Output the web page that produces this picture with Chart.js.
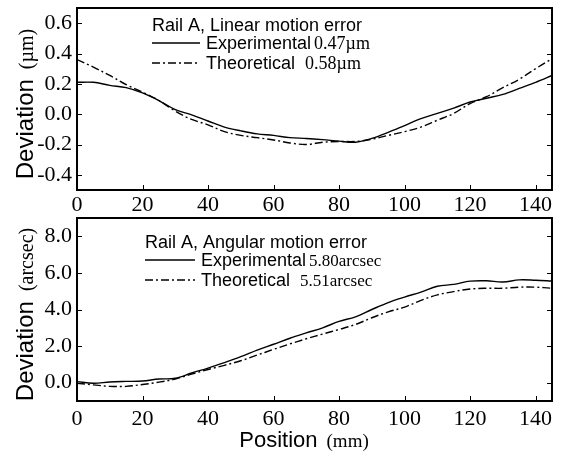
<!DOCTYPE html>
<html>
<head>
<meta charset="utf-8">
<script src="https://cdn.jsdelivr.net/npm/chart.js@4"></script>
<style>
  html, body { margin: 0; padding: 0; background: #fff; }
  #wrap { position: relative; width: 563px; height: 452px; }
  canvas { position: absolute; left: 0; }
</style>
</head>
<body>
<div id="wrap">
  <canvas id="linChart" width="563" height="215" style="top:0"></canvas>
  <canvas id="angChart" width="563" height="237" style="top:215px"></canvas>
</div>
<script>
// positions along the rail (mm)
const positions = [0, 5, 10, 15, 20, 25, 30, 35, 40, 45, 50, 55, 60, 65, 70,
  75, 80, 85, 90, 95, 100, 105, 110, 115, 120, 125, 130, 135, 140, 145];

// linear motion error (um)
const linExperimental = [0.21, 0.21, 0.19, 0.175, 0.14, 0.09, 0.03, -0.005, -0.045, -0.085,
  -0.11, -0.13, -0.14, -0.155, -0.16, -0.168, -0.178, -0.185, -0.16, -0.12,
  -0.075, -0.03, 0.005, 0.04, 0.08, 0.105, 0.13, 0.17, 0.21, 0.255];
const linTheoretical = [0.36, 0.31, 0.255, 0.195, 0.145, 0.09, 0.02, -0.035, -0.07, -0.115,
  -0.14, -0.155, -0.17, -0.19, -0.2, -0.185, -0.18, -0.18, -0.165, -0.14,
  -0.115, -0.085, -0.04, 0.005, 0.07, 0.115, 0.175, 0.23, 0.3, 0.365];

// angular motion error (arcsec)
const angExperimental = [0.06, -0.03, 0.04, 0.07, 0.09, 0.2, 0.24, 0.53, 0.8, 1.1,
  1.42, 1.78, 2.1, 2.43, 2.72, 3.0, 3.35, 3.6, 4.0, 4.38,
  4.68, 4.95, 5.27, 5.37, 5.55, 5.57, 5.5, 5.62, 5.6, 5.56];
const angTheoretical = [-0.03, -0.12, -0.2, -0.2, -0.1, 0.03, 0.2, 0.47, 0.72, 0.95,
  1.2, 1.51, 1.82, 2.12, 2.4, 2.66, 2.91, 3.18, 3.55, 3.87,
  4.13, 4.5, 4.8, 4.98, 5.12, 5.16, 5.16, 5.22, 5.22, 5.16];

// tick values
const xTicks = [0, 20, 40, 60, 80, 100, 120, 140];
const linYTicks = [-0.4, -0.2, 0.0, 0.2, 0.4, 0.6];
const angYTicks = [0, 2, 4, 6, 8];

// legend texts
const linLegend = { title: 'Rail A, Linear motion error', exp: '0.47\u00b5m', th: '0.58\u00b5m' };
const angLegend = { title: 'Rail A, Angular motion error', exp: '5.80arcsec', th: '5.51arcsec' };

const SANS = "'Liberation Sans', Arial, sans-serif";
const SERIF = "'Liberation Serif', 'Times New Roman', serif";
const DASHDOT = [8, 3, 2, 3];

Chart.defaults.font.family = SERIF;
Chart.defaults.color = '#000';

const toPoints = (ys) => positions.map((x, i) => ({ x: x, y: ys[i] }));

// box, inward ticks, y title and legend
function framePlugin(opts) {
  return {
    id: 'frame_' + opts.name,
    afterDraw(chart) {
      const ctx = chart.ctx;
      const a = chart.chartArea;
      const xs = chart.scales.x, ys = chart.scales.y;
      ctx.save();
      ctx.strokeStyle = '#000';
      ctx.lineWidth = 2;
      ctx.setLineDash([]);
      ctx.strokeRect(a.left, a.top, a.right - a.left, a.bottom - a.top);

      ctx.lineWidth = 1;
      ctx.beginPath();
      xTicks.forEach(v => {
        const px = Math.round(xs.getPixelForValue(v)) + 0.5;
        ctx.moveTo(px, a.bottom); ctx.lineTo(px, a.bottom - 5);
      });
      opts.yTicks.forEach(v => {
        const py = Math.round(ys.getPixelForValue(v)) + 0.5;
        ctx.moveTo(a.left, py); ctx.lineTo(a.left + 5, py);
        ctx.moveTo(a.right, py); ctx.lineTo(a.right - 5, py);
      });
      ctx.stroke();

      // rotated y title, mixed fonts
      ctx.fillStyle = '#000';
      ctx.textBaseline = 'alphabetic';
      ctx.textAlign = 'left';
      const midY = (a.top + a.bottom) / 2 + opts.titleShift;
      ctx.translate(opts.titleX, midY);
      ctx.rotate(-Math.PI / 2);
      ctx.font = '24px ' + SANS;
      const w1 = ctx.measureText('Deviation').width;
      ctx.font = '20px ' + SERIF;
      const w2 = ctx.measureText(opts.unit).width;
      const gap = 10;
      let sx = -(w1 + gap + w2) / 2;
      ctx.font = '24px ' + SANS;
      ctx.fillText('Deviation', sx, 0);
      ctx.font = '20px ' + SERIF;
      ctx.fillText(opts.unit, sx + w1 + gap, 0);
      ctx.setTransform(1, 0, 0, 1, 0, 0);

      // legend
      const L = opts.legend, lg = opts.legendText;
      ctx.font = '18px ' + SANS;
      ctx.fillText(lg.title, L.x, L.y);
      const rows = [
        { name: 'Experimental', val: lg.exp, dash: [], y: L.y + 18 },
        { name: 'Theoretical', val: lg.th, dash: DASHDOT, y: L.y + 38 }
      ];
      rows.forEach((r, i) => {
        ctx.beginPath();
        ctx.setLineDash(r.dash);
        ctx.lineWidth = 1.3;
        ctx.moveTo(L.x, r.y - 6);
        ctx.lineTo(L.x + L.len, r.y - 6);
        ctx.stroke();
        ctx.setLineDash([]);
        ctx.font = '18px ' + SANS;
        ctx.fillText(r.name, L.x + L.len + 6, r.y);
        const nw = ctx.measureText(r.name).width;
        ctx.font = opts.valFont + SERIF;
        ctx.fillText(r.val, L.x + L.len + 6 + nw + (i === 0 ? 3 : 10), r.y);
      });
      ctx.restore();
    }
  };
}

function makeOptions(cfg) {
  return {
    responsive: false,
    devicePixelRatio: 1,
    animation: false,
    layout: { padding: { top: cfg.padTop, right: 11, left: 0, bottom: 0 } },
    plugins: { legend: { display: false }, tooltip: { enabled: false } },
    elements: { point: { radius: 0 }, line: { tension: 0.35, borderWidth: 1.4 } },
    scales: {
      x: {
        type: 'linear',
        min: 0,
        max: 145,
        afterBuildTicks: s => { s.ticks = xTicks.map(v => ({ value: v })); },
        afterFit: s => { s.height = cfg.xHeight; s.paddingLeft = 0; s.paddingRight = 0; },
        grid: { display: false, drawTicks: false },
        border: { display: false },
        ticks: { padding: cfg.xPad, font: { size: 22, family: SERIF }, color: '#000', maxRotation: 0,
          callback: v => String(v) }
      },
      y: {
        min: cfg.yMin,
        max: cfg.yMax,
        afterBuildTicks: s => { s.ticks = cfg.yTicks.map(v => ({ value: v })); },
        afterFit: s => { s.width = 77; s.paddingTop = 0; s.paddingBottom = 0; },
        grid: { display: false, drawTicks: false },
        border: { display: false },
        ticks: { padding: 5, font: { size: 22, family: SERIF }, color: '#000',
          callback: v => v.toFixed(1) }
      }
    }
  };
}

function datasets(exp, th) {
  return [
    { label: 'Experimental', data: toPoints(exp), borderColor: '#000', borderDash: [], fill: false },
    { label: 'Theoretical', data: toPoints(th), borderColor: '#000', borderDash: DASHDOT, fill: false }
  ];
}

new Chart(document.getElementById('linChart'), {
  type: 'line',
  data: { datasets: datasets(linExperimental, linTheoretical) },
  options: makeOptions({ padTop: 8, xHeight: 25, xPad: 2, yMin: -0.5, yMax: 0.7, yTicks: linYTicks }),
  plugins: [framePlugin({
    name: 'lin', yTicks: linYTicks, unit: '(\u00b5m)', titleX: 33, titleShift: 5,
    legend: { x: 152, y: 31, len: 48 }, legendText: linLegend, valFont: '18px '
  })]
});

// x title with mixed fonts
const positionTitle = {
  id: 'positionTitle',
  afterDraw(chart) {
    const ctx = chart.ctx;
    ctx.save();
    ctx.fillStyle = '#000';
    ctx.textBaseline = 'alphabetic';
    ctx.font = '22px ' + SANS;
    const w1 = ctx.measureText('Position').width;
    ctx.font = '19px ' + SERIF;
    const w2 = ctx.measureText('(mm)').width;
    const gap = 9;
    const sx = 304 - (w1 + gap + w2) / 2;
    ctx.font = '22px ' + SANS;
    ctx.fillText('Position', sx, chart.height - 5);
    ctx.font = '19px ' + SERIF;
    ctx.fillText('(mm)', sx + w1 + gap, chart.height - 5);
    ctx.restore();
  }
};

new Chart(document.getElementById('angChart'), {
  type: 'line',
  data: { datasets: datasets(angExperimental, angTheoretical) },
  options: makeOptions({ padTop: 3, xHeight: 51, xPad: 5, yMin: -1, yMax: 9, yTicks: angYTicks }),
  plugins: [framePlugin({
    name: 'ang', yTicks: angYTicks, unit: '(arcsec)', titleX: 33, titleShift: 5,
    legend: { x: 145, y: 33, len: 50 }, legendText: angLegend, valFont: '17px '
  }), positionTitle]
});
</script>
</body>
</html>
